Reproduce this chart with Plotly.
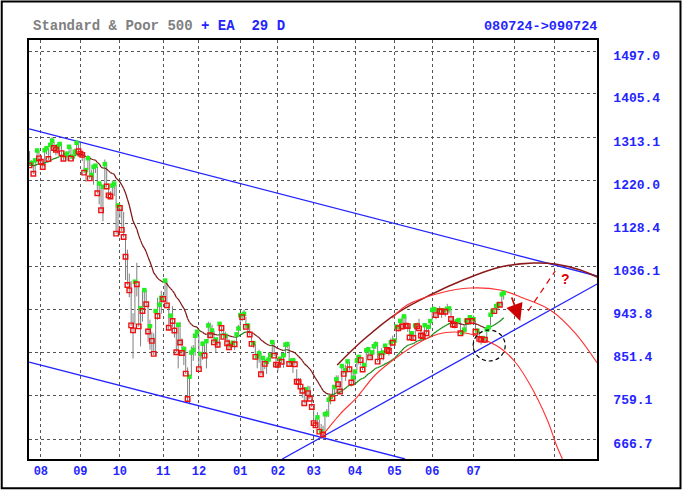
import plotly.graph_objects as go

# S&P 500, trading days 2008-07-24 .. 2009-07-24 (day index 0..252)
close_vals = [
    # Jul 08
    1252.5, 1257.8, 1234.4, 1263.2, 1284.3, 1267.4,
    # Aug 08
    1260.3, 1249.0, 1284.9, 1289.2, 1266.1, 1296.3, 1305.3, 1289.6, 1285.8, 1292.9,
    1298.2, 1278.6, 1266.7, 1274.5, 1277.7, 1292.2, 1266.8, 1271.5, 1281.7, 1300.7, 1282.8,
    # Sep 08
    1277.6, 1274.9, 1236.8, 1242.3, 1267.8, 1224.5, 1232.0, 1249.1, 1251.7, 1192.7,
    1213.6, 1156.4, 1206.5, 1255.1, 1207.1, 1188.2, 1185.9, 1209.2, 1213.3, 1106.4, 1166.4,
    # Oct 08
    1161.1, 1114.3, 1099.2, 1056.9, 996.2, 984.9, 909.9, 899.2, 1003.4, 998.0,
    907.8, 946.4, 940.6, 985.4, 955.1, 896.8, 908.1, 876.8, 848.9, 940.5,
    930.1, 954.1, 968.8,
    # Nov 08
    966.3, 1005.8, 952.8, 904.9, 930.9, 919.2, 898.9, 852.3, 911.3, 873.3,
    850.8, 859.1, 806.6, 752.4, 800.0, 851.8, 857.4, 887.7, 896.2,
    # Dec 08
    816.2, 848.8, 870.7, 845.2, 876.1, 909.7, 888.7, 899.2, 873.6, 879.7,
    868.6, 913.2, 904.4, 885.3, 887.9, 871.6, 863.2, 868.2, 872.8, 869.4,
    890.6, 903.3,
    # Jan 09
    931.8, 927.5, 934.7, 906.7, 909.7, 890.4, 870.3, 871.8, 842.6, 843.7,
    850.1, 805.2, 840.2, 827.5, 831.9, 836.6, 845.7, 874.1, 845.1, 825.9,
    # Feb 09
    825.4, 838.5, 832.2, 845.9, 868.6, 869.9, 827.2, 833.7, 835.2, 826.8,
    789.2, 788.4, 778.9, 770.1, 743.3, 773.1, 764.9, 752.8, 735.1,
    # Mar 09
    700.8, 696.3, 712.9, 682.6, 683.4, 676.5, 719.6, 721.4, 750.7, 756.6,
    753.9, 778.1, 794.4, 784.0, 768.5, 822.9, 806.1, 813.9, 832.9, 815.9,
    787.5, 797.9,
    # Apr 09
    811.1, 834.4, 842.5, 835.5, 815.6, 825.2, 856.6, 858.7, 841.5, 852.1,
    865.3, 869.6, 832.4, 850.1, 843.6, 851.9, 866.2, 857.5, 855.2, 873.6,
    872.8,
    # May 09
    877.5, 907.2, 903.8, 919.5, 907.4, 929.2, 909.2, 908.4, 883.9, 893.1,
    882.9, 909.7, 908.1, 903.5, 888.3, 887.0, 910.3, 893.1, 906.8, 919.1,
    # Jun 09
    942.9, 944.7, 931.8, 942.5, 940.1, 939.1, 942.4, 939.2, 944.9, 946.2,
    923.7, 911.9, 910.7, 918.4, 921.2, 893.0, 895.1, 900.9, 920.3, 918.9,
    927.2, 919.3,
    # Jul 09
    923.3, 896.4, 898.7, 881.0, 879.6, 882.7, 879.1, 901.1, 905.8, 932.7,
    940.7, 940.4, 951.1, 954.6, 954.1, 976.3, 979.3,
]

high_vals = [
    1283, 1263, 1260, 1264, 1285, 1284,
    1270, 1260, 1285, 1292, 1289, 1297, 1313, 1303, 1294, 1300,
    1301, 1300, 1278, 1277, 1280, 1294, 1292, 1276, 1288, 1301, 1300,
    1303, 1281, 1275, 1243, 1274, 1270, 1243, 1250, 1255, 1250,
    1214, 1214, 1211, 1265, 1255, 1214, 1197, 1220, 1215, 1210, 1171,
    1167, 1162, 1153, 1097, 1072, 1021, 1005, 936, 1006, 1044,
    995, 948, 984, 986, 985, 955, 922, 896, 893, 941,
    969, 963, 984,
    975, 1007, 1005, 952, 933, 951, 918, 897, 912, 917,
    882, 866, 864, 820, 801, 865, 868, 888, 897,
    889, 849, 875, 875, 880, 918, 916, 911, 898, 883,
    884, 914, 908, 911, 897, 889, 880, 869, 874, 873,
    891, 911,
    934, 936, 943, 928, 910, 911, 890, 877, 870, 851,
    858, 850, 841, 839, 838, 852, 850, 877, 874, 851,
    826, 842, 851, 850, 870, 875, 869, 839, 836, 839,
    816, 797, 797, 778, 778, 775, 781, 780, 752,
    735, 711, 724, 708, 699, 695, 720, 731, 752, 758,
    774, 779, 803, 803, 788, 823, 823, 826, 833, 832,
    815, 811,
    812, 845, 843, 842, 835, 828, 857, 864, 856, 853,
    870, 876, 868, 851, 861, 852, 871, 864, 864, 882,
    888,
    880, 908, 907, 920, 929, 930, 929, 915, 908, 898,
    896, 910, 916, 924, 903, 896, 911, 913, 909, 920,
    947, 950, 942, 943, 951, 946, 946, 950, 956, 947,
    942, 928, 918, 922, 923, 918, 898, 911, 921, 922,
    928, 930,
    931, 921, 899, 898, 887, 887, 883, 902, 907, 933,
    943, 941, 952, 956, 959, 979, 980,
]

low_vals = [
    1251, 1251, 1234, 1235, 1264, 1264,
    1254, 1247, 1249, 1276, 1264, 1262, 1292, 1287, 1274, 1276,
    1285, 1274, 1263, 1262, 1262, 1278, 1266, 1263, 1271, 1282, 1282,
    1272, 1262, 1236, 1217, 1243, 1224, 1221, 1211, 1236, 1192,
    1169, 1155, 1133, 1206, 1205, 1187, 1180, 1187, 1187, 1106, 1107,
    1140, 1111, 1098, 1007, 996, 970, 909, 839, 912, 972,
    907, 865, 918, 938, 952, 875, 858, 852, 846, 845,
    922, 928, 935,
    958, 971, 949, 899, 906, 907, 884, 852, 818, 869,
    848, 825, 806, 747, 741, 801, 834, 845, 886,
    815, 818, 836, 840, 818, 882, 884, 889, 871, 851,
    862, 869, 895, 881, 879, 864, 860, 861, 866, 857,
    870, 889,
    899, 919, 927, 903, 896, 888, 864, 862, 837, 818,
    830, 804, 804, 816, 806, 828, 835, 845, 844, 821,
    812, 821, 829, 819, 845, 861, 822, 823, 808, 825,
    789, 780, 777, 755, 743, 743, 752, 752, 735,
    700, 692, 698, 681, 667, 673, 683, 713, 714, 741,
    753, 749, 765, 781, 766, 772, 805, 791, 814, 814,
    779, 790,
    783, 815, 826, 824, 814, 814, 830, 846, 838, 836,
    847, 860, 832, 827, 840, 835, 849, 853, 845, 855,
    868,
    866, 879, 897, 903, 901, 909, 907, 896, 879, 882,
    878, 886, 905, 901, 879, 883, 881, 892, 887, 903,
    923, 938, 923, 929, 934, 926, 936, 929, 939, 936,
    919, 911, 903, 909, 912, 893, 888, 899, 896, 913,
    916, 913,
    920, 896, 886, 879, 869, 878, 872, 875, 896, 910,
    928, 934, 942, 942, 948, 953, 965,
]

# month starts (day index) and their labels; last two months have no label
month_start = [6, 27, 48, 71, 90, 112, 132, 151, 173, 194, 214, 236, 258, 279]
month_labels = ["08", "09", "10", "11", "12", "01", "02", "03", "04", "05", "06", "07", "", ""]

price_ticks = [1497.0, 1405.4, 1313.1, 1220.0, 1128.4, 1036.1, 943.8, 851.4, 759.1, 666.7]

# hand drawn lines: (day index, price)
chan_top_x = [-0.2, 301.7]
chan_top_y = [1330.3, 1015.6]
chan_low_x = [-0.2, 199.6]
chan_low_y = [831.5, 623.9]
rise_x = [134.3, 301.7]
rise_y = [623.9, 998.5]

brown_arc_x = [163.5, 177.3, 195.4, 212.9, 230.5, 250.2, 267.7, 279.4, 292.7, 301.7]
brown_arc_y = [825.1, 878.6, 936.4, 975.0, 1007.1, 1034.9, 1043.5, 1041.3, 1028.5, 1013.5]

outer_arc_x = [192.7, 200.7, 218.2, 234.2, 250.2, 262.3, 276.7, 290.0, 301.7]
outer_arc_y = [925.7, 953.5, 979.2, 989.9, 985.6, 968.5, 942.8, 893.6, 829.4]

inner_arc_x = [155.0, 165.1, 174.1, 183.7, 195.4, 207.6, 217.2, 226.2, 234.2, 242.2,
               250.2, 258.1, 266.1, 275.2, 280.0, 283.2]
inner_arc_y = [671.0, 720.2, 756.6, 803.7, 842.2, 874.3, 891.5, 895.7, 891.5, 878.6,
               861.5, 831.5, 782.3, 707.4, 653.9, 623.9]

dash_x = [265.0, 279.4]
dash_y = [940.7, 1026.3]

n = len(close_vals)

# EA 29: exponential average of the closes
k = 2.0 / 30
ema = [close_vals[0]]
for c in close_vals[1:]:
    ema.append(ema[-1] + k * (c - ema[-1]))

up_x, up_y, dn_x, dn_y = [], [], [], []
for i in range(1, n):
    if ema[i] >= ema[i - 1]:
        up_x += [i - 1, i, None]
        up_y += [ema[i - 1], ema[i], None]
    else:
        dn_x += [i - 1, i, None]
        dn_y += [ema[i - 1], ema[i], None]

bar_x, bar_y = [], []
for i in range(n):
    bar_x += [i, i, None]
    bar_y += [low_vals[i], high_vals[i], None]

g_x, g_y, r_x, r_y = [], [], [], []
for i in range(n):
    if i > 0 and close_vals[i] >= close_vals[i - 1]:
        g_x.append(i)
        g_y.append(close_vals[i])
    else:
        r_x.append(i)
        r_y.append(close_vals[i])

BLUE = "#2424ff"
fig = go.Figure()
fig.add_trace(go.Scatter(x=bar_x, y=bar_y, mode="lines",
                         line=dict(color="#7f7f7f", width=1)))
fig.add_trace(go.Scatter(x=up_x, y=up_y, mode="lines",
                         line=dict(color="#108a10", width=1.2)))
fig.add_trace(go.Scatter(x=dn_x, y=dn_y, mode="lines",
                         line=dict(color="#7a1010", width=1.2)))

for xs, ys in [(chan_top_x, chan_top_y), (chan_low_x, chan_low_y), (rise_x, rise_y)]:
    fig.add_trace(go.Scatter(x=xs, y=ys, mode="lines", line=dict(color=BLUE, width=1.3)))

fig.add_trace(go.Scatter(x=brown_arc_x, y=brown_arc_y, mode="lines",
                         line=dict(color="#8b1a1a", width=1.5, shape="spline")))
fig.add_trace(go.Scatter(x=outer_arc_x, y=outer_arc_y, mode="lines",
                         line=dict(color="#ff3030", width=1.1, shape="spline")))
fig.add_trace(go.Scatter(x=inner_arc_x, y=inner_arc_y, mode="lines",
                         line=dict(color="#ff3030", width=1.1, shape="spline")))
fig.add_trace(go.Scatter(x=dash_x, y=dash_y, mode="lines",
                         line=dict(color="#dd0000", width=1.2, dash="6px,5px")))

fig.add_trace(go.Scatter(x=g_x, y=g_y, mode="markers",
                         marker=dict(symbol="square", size=4.5, color="#22ee22")))
fig.add_trace(go.Scatter(x=r_x, y=r_y, mode="markers",
                         marker=dict(symbol="square-open", size=4.5, color="#ee1111",
                                     line=dict(width=1.4))))

mono = "Liberation Mono"
fig.update_layout(
    width=682, height=490,
    margin=dict(l=29, r=85, t=40, b=31),
    paper_bgcolor="white", plot_bgcolor="white",
    showlegend=False,
    xaxis=dict(
        range=[-0.3, 301.6], tickvals=month_start,
        ticktext=["<b>%s</b>" % s for s in month_labels],
        tickfont=dict(family=mono, size=12, color=BLUE),
        showgrid=True, gridcolor="#555555", griddash="dot", gridwidth=1,
        showline=True, mirror=True, linecolor="black", linewidth=1.5,
        ticks="", zeroline=False,
    ),
    yaxis=dict(
        range=[623.9, 1520.8], side="right", tickvals=price_ticks,
        ticktext=["<b>%.1f</b>" % v for v in price_ticks],
        tickfont=dict(family=mono, size=13, color=BLUE),
        ticklabelstandoff=12, ticklabelshift=4,
        showgrid=True, gridcolor="#555555", griddash="dot", gridwidth=1,
        showline=True, mirror=True, linecolor="black", linewidth=1.5,
        ticks="", zeroline=False,
    ),
    shapes=[
        dict(type="circle", xref="x", yref="y", x0=235.8, x1=252.8, y0=833.7, y1=900.0,
             layer="above", line=dict(color="black", width=1.2, dash="4px,3px")),
        dict(type="rect", xref="paper", yref="paper", x0=-0.048, x1=1.147,
             y0=-0.070, y1=1.092, line=dict(color="black", width=2)),
    ],
    annotations=[
        dict(xref="paper", yref="paper", x=0.004, y=1.033, xanchor="left", yanchor="middle",
             showarrow=False, font=dict(family=mono, size=14, color="#808080"),
             text="<b>Standard & Poor 500 <span style='color:%s'>+ EA\u00a0\u00a029 D</span></b>" % BLUE),
        dict(xref="paper", yref="paper", x=1.004, y=1.033, xanchor="right", yanchor="middle",
             showarrow=False, font=dict(family=mono, size=13.5, color=BLUE),
             text="<b>080724->090724</b>"),
        dict(x=260.8, y=919.3, ax=256.0, ay=972.8, axref="x", ayref="y", text="",
             showarrow=True, arrowhead=2, arrowsize=2, arrowwidth=1.7, arrowcolor="#cc0000"),
        dict(x=284.7, y=1009.2, text="<b>?</b>", showarrow=False,
             font=dict(family="Liberation Sans", size=14, color="#dd0000")),
    ],
)

fig.write_html("out.html", config={"displayModeBar": False},
               post_script="document.body.style.margin='0';")
